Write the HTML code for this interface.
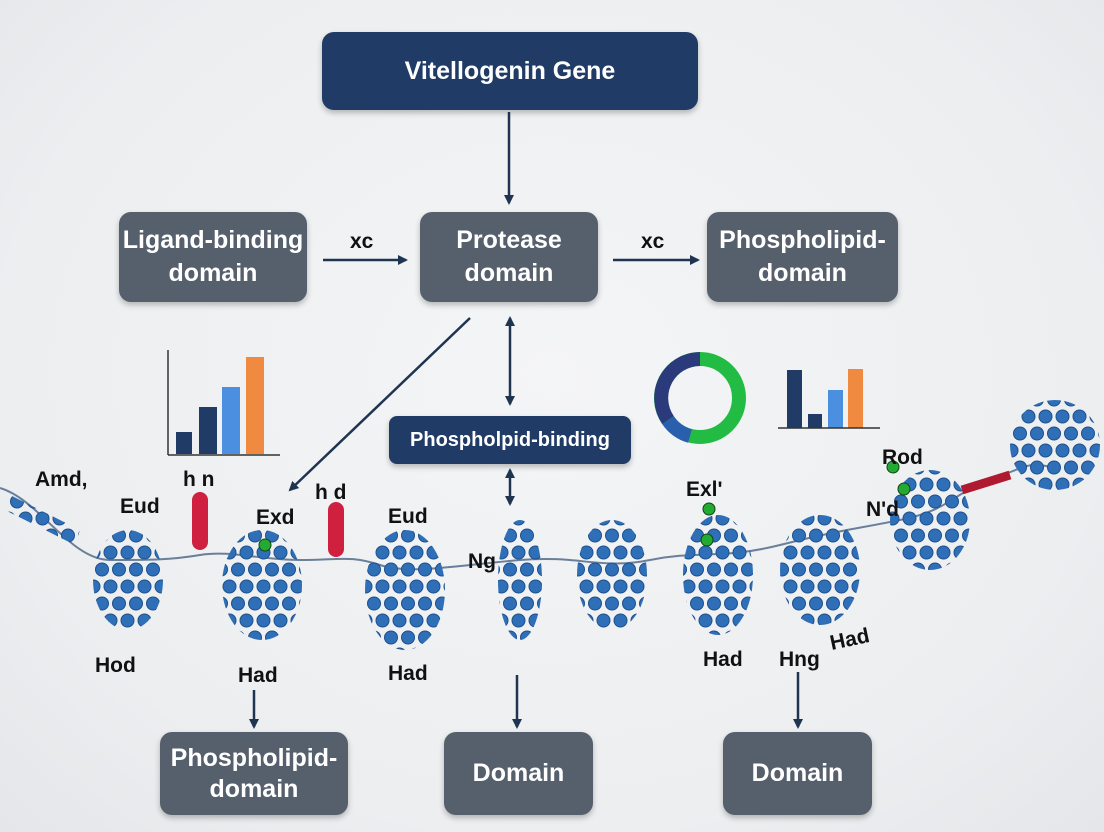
<!DOCTYPE html>
<html><head><meta charset="utf-8"><style>
html,body{margin:0;padding:0}
body{width:1104px;height:832px;overflow:hidden;background:radial-gradient(ellipse at 50% 45%,#f4f5f7 0%,#eceef0 70%,#e4e6e9 100%);font-family:"Liberation Sans",sans-serif;position:relative}
.b{position:absolute;color:#fff;display:flex;align-items:center;justify-content:center;text-align:center;font-weight:bold;border-radius:12px;box-shadow:0 3px 6px rgba(0,0,0,.25)}
.g{background:#565f6c;font-size:25px;line-height:33px}
.n{background:#1f3b66}
.l{position:absolute;font-weight:bold;font-size:21px;color:#111}
</style></head><body>
<div class="b n" style="left:322px;top:32px;width:376px;height:78px;font-size:25px">Vitellogenin Gene</div>
<div class="b g" style="left:119px;top:212px;width:188px;height:90px">Ligand-binding<br>domain</div>
<div class="b g" style="left:420px;top:212px;width:178px;height:90px">Protease<br>domain</div>
<div class="b g" style="left:707px;top:212px;width:191px;height:90px">Phospholipid-<br>domain</div>
<div class="b n" style="left:389px;top:416px;width:242px;height:48px;font-size:20px;border-radius:8px">Phospholpid-binding</div>
<div class="b g" style="left:160px;top:732px;width:188px;height:83px;line-height:31px">Phospholipid-<br>domain</div>
<div class="b g" style="left:444px;top:732px;width:149px;height:83px">Domain</div>
<div class="b g" style="left:723px;top:732px;width:149px;height:83px">Domain</div>

<svg width="1104" height="832" style="position:absolute;left:0;top:0">
<defs>
<marker id="a" markerWidth="10" markerHeight="10" refX="8" refY="5" orient="auto-start-reverse" markerUnits="userSpaceOnUse"><path d="M0,0L10,5L0,10z" fill="#1f3450"/></marker>
<pattern id="p" width="17" height="34" patternUnits="userSpaceOnUse"><circle cx="8.5" cy="8.5" r="6.5" fill="#2f6fb8" stroke="#1d4f8c" stroke-width="1"/><circle cx="0" cy="25.5" r="6.5" fill="#2f6fb8" stroke="#1d4f8c" stroke-width="1"/><circle cx="17" cy="25.5" r="6.5" fill="#2f6fb8" stroke="#1d4f8c" stroke-width="1"/></pattern>
</defs>
<g stroke="#1f3450" stroke-width="2.5" fill="none">
<line x1="509" y1="112" x2="509" y2="203" marker-end="url(#a)"/>
<line x1="323" y1="260" x2="406" y2="260" marker-end="url(#a)"/>
<line x1="613" y1="260" x2="698" y2="260" marker-end="url(#a)"/>
<line x1="470" y1="318" x2="290" y2="490" marker-end="url(#a)"/>
<line x1="510" y1="318" x2="510" y2="404" marker-start="url(#a)" marker-end="url(#a)"/>
<line x1="510" y1="470" x2="510" y2="504" marker-start="url(#a)" marker-end="url(#a)"/>
<line x1="254" y1="690" x2="254" y2="727" marker-end="url(#a)"/>
<line x1="517" y1="675" x2="517" y2="727" marker-end="url(#a)"/>
<line x1="798" y1="672" x2="798" y2="727" marker-end="url(#a)"/>
</g>
<g stroke="#333" stroke-width="1.5" fill="none"><line x1="168" y1="350" x2="168" y2="455"/><line x1="168" y1="455" x2="280" y2="455"/></g>
<rect x="176" y="432" width="16" height="22" fill="#1f3b66"/><rect x="199" y="407" width="18" height="47" fill="#1f3b66"/>
<rect x="222" y="387" width="18" height="67" fill="#4a8fe0"/><rect x="246" y="357" width="18" height="97" fill="#f08a40"/>
<circle cx="700" cy="398" r="39" fill="none" stroke="#22bb44" stroke-width="14"/>
<path d="M700,359 A39,39 0 0 0 668,420" fill="none" stroke="#2a3a7a" stroke-width="14"/>
<path d="M668,420 A39,39 0 0 0 690,436" fill="none" stroke="#2a5fae" stroke-width="14"/>
<rect x="787" y="370" width="15" height="58" fill="#1f3b66"/><rect x="808" y="414" width="14" height="14" fill="#1f3b66"/>
<rect x="828" y="390" width="15" height="38" fill="#4a8fe0"/><rect x="848" y="369" width="15" height="59" fill="#f08a40"/>
<line x1="778" y1="428" x2="880" y2="428" stroke="#333" stroke-width="1.5"/>
<path d="M0,488 C40,500 70,560 110,560 S170,560 200,555 S260,560 300,560 S350,555 380,565 S460,565 520,560 S600,570 650,560 S720,560 780,545 S850,530 900,520 S950,495 990,480 S1030,460 1060,470" fill="none" stroke="#6a7f9a" stroke-width="2"/>
<g fill="url(#p)">
<path d="M10,495 L80,530 L75,545 L5,510z"/>
<ellipse cx="128" cy="580" rx="35" ry="50"/>
<ellipse cx="262" cy="585" rx="40" ry="55"/>
<ellipse cx="405" cy="590" rx="40" ry="60"/>
<ellipse cx="520" cy="580" rx="22" ry="60"/>
<ellipse cx="612" cy="575" rx="35" ry="55"/>
<ellipse cx="718" cy="575" rx="35" ry="60"/>
<ellipse cx="820" cy="570" rx="40" ry="55"/>
<ellipse cx="930" cy="520" rx="40" ry="50"/>
<ellipse cx="1055" cy="445" rx="45" ry="45"/>
</g>
<rect x="192" y="492" width="16" height="58" rx="8" fill="#d0203f"/>
<rect x="328" y="502" width="16" height="55" rx="8" fill="#d0203f"/>
<path d="M962,490 L1010,475" stroke="#b01a30" stroke-width="9"/>
<g fill="#22aa33" stroke="#114411"><circle cx="265" cy="545" r="6"/><circle cx="709" cy="509" r="6"/><circle cx="707" cy="540" r="6"/><circle cx="893" cy="467" r="6"/><circle cx="904" cy="489" r="6"/></g>
</svg>
<div class="l" style="left:350px;top:230px">xc</div>
<div class="l" style="left:641px;top:230px">xc</div>
<div class="l" style="left:35px;top:468px">Amd,</div>
<div class="l" style="left:120px;top:495px">Eud</div>
<div class="l" style="left:183px;top:468px">h&nbsp;n</div>
<div class="l" style="left:256px;top:506px">Exd</div>
<div class="l" style="left:315px;top:481px">h&nbsp;d</div>
<div class="l" style="left:388px;top:505px">Eud</div>
<div class="l" style="left:468px;top:550px">Ng</div>
<div class="l" style="left:686px;top:478px">Exl'</div>
<div class="l" style="left:882px;top:446px">Rod</div>
<div class="l" style="left:866px;top:498px">N'd</div>
<div class="l" style="left:95px;top:654px">Hod</div>
<div class="l" style="left:238px;top:664px">Had</div>
<div class="l" style="left:388px;top:662px">Had</div>
<div class="l" style="left:703px;top:648px">Had</div>
<div class="l" style="left:779px;top:648px">Hng</div>
<div class="l" style="left:830px;top:628px;transform:rotate(-12deg)">Had</div>
</body></html>
